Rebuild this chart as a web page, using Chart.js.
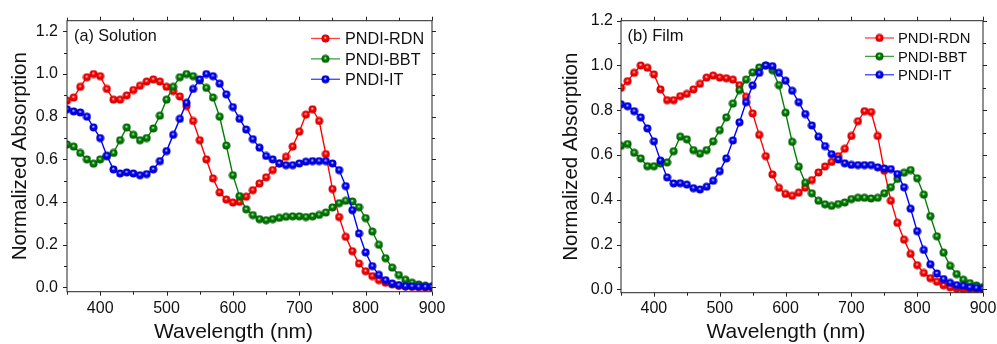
<!DOCTYPE html>
<html><head><meta charset="utf-8">
<script src="https://cdn.jsdelivr.net/npm/chart.js@4/dist/chart.umd.min.js"></script>
<style>
html,body{margin:0;padding:0;background:#fff;}
#wrap{position:relative;width:997px;height:344px;overflow:hidden;background:#fff;}
#ca{position:absolute;left:0;top:0;}
#cb{position:absolute;left:552px;top:0;}
</style></head><body>
<div id="wrap"><canvas id="ca" width="450" height="344"></canvas><canvas id="cb" width="445" height="344"></canvas></div>
<script>
// ---------- data ----------
const wavelengths = [350,360,370,380,390,400,410,420,430,440,450,460,470,480,490,500,510,520,530,540,550,560,570,580,590,600,610,620,630,640,650,660,670,680,690,700,710,720,730,740,750,760,770,780,790,800,810,820,830,840,850,860,870,880,890,900];

const seriesNames = ['PNDI-RDN','PNDI-BBT','PNDI-IT'];

const solutionRDN = [0.875,0.89,0.94,0.985,1.0,0.99,0.93,0.88,0.88,0.90, 0.925,0.945,0.965,0.975,0.965,0.94,0.92,0.895,0.85,0.78, 0.69,0.60,0.511,0.445,0.412,0.398,0.401,0.425,0.456,0.487, 0.516,0.55,0.581,0.612,0.66,0.73,0.81,0.835,0.78,0.625, 0.461,0.33,0.237,0.17,0.112,0.076,0.053,0.034,0.022,0.014, 0.008,0.005,0.003,0.002,0.0,0.0];
const solutionBBT = [0.67,0.66,0.63,0.60,0.58,0.60,0.615,0.63,0.69,0.75, 0.715,0.69,0.70,0.745,0.805,0.88,0.94,0.985,1.0,0.99, 0.97,0.935,0.89,0.80,0.665,0.526,0.428,0.366,0.339,0.32, 0.315,0.32,0.326,0.331,0.333,0.333,0.33,0.333,0.34,0.351, 0.375,0.395,0.406,0.403,0.376,0.325,0.262,0.20,0.137,0.093, 0.058,0.036,0.022,0.014,0.008,0.003];
const solutionIT = [0.835,0.825,0.82,0.80,0.75,0.70,0.617,0.553,0.534,0.539, 0.534,0.526,0.531,0.553,0.592,0.639,0.715,0.79,0.865,0.93, 0.975,1.0,0.99,0.955,0.905,0.845,0.79,0.74,0.695,0.655, 0.616,0.60,0.581,0.573,0.573,0.581,0.589,0.592,0.592,0.592, 0.581,0.55,0.475,0.362,0.253,0.164,0.10,0.059,0.034,0.019, 0.011,0.006,0.005,0.003,0.003,0.003];

const filmRDN = [0.90,0.93,0.967,1.0,0.99,0.96,0.893,0.845,0.845,0.863, 0.873,0.893,0.918,0.946,0.955,0.946,0.943,0.937,0.912,0.86, 0.786,0.69,0.595,0.513,0.453,0.426,0.418,0.432,0.454,0.488, 0.522,0.549,0.569,0.595,0.628,0.685,0.751,0.796,0.792,0.685, 0.53,0.396,0.297,0.222,0.158,0.108,0.073,0.05,0.034,0.018, 0.009,0.003,0.0,0.0,0.0,0.0];
const filmBBT = [0.641,0.649,0.61,0.585,0.55,0.55,0.562,0.567,0.617,0.682, 0.67,0.622,0.606,0.622,0.661,0.711,0.768,0.83,0.89,0.937, 0.969,0.991,1.0,0.979,0.912,0.789,0.659,0.548,0.476,0.429, 0.396,0.38,0.373,0.381,0.388,0.403,0.409,0.409,0.406,0.409, 0.429,0.456,0.493,0.521,0.533,0.496,0.423,0.327,0.237,0.164, 0.105,0.068,0.043,0.028,0.017,0.01];
const filmIT = [0.827,0.818,0.796,0.768,0.719,0.661,0.575,0.50,0.473,0.474, 0.468,0.452,0.446,0.458,0.485,0.528,0.585,0.665,0.746,0.836, 0.911,0.967,1.0,0.997,0.967,0.932,0.887,0.836,0.783,0.732, 0.682,0.64,0.604,0.58,0.563,0.556,0.555,0.555,0.555,0.545, 0.54,0.537,0.515,0.456,0.36,0.26,0.176,0.112,0.071,0.046, 0.029,0.019,0.015,0.009,0.006,0.003];

const xTickLabels = [400,500,600,700,800,900];
const xMinorTicks = [350,450,550,650,750,850];
const yTickLabels = [0,0.2,0.4,0.6,0.8,1.0,1.2];
const yMinorTicks = [0.1,0.3,0.5,0.7,0.9,1.1];

const xTitle = 'Wavelength (nm)';
const yTitle = 'Normalized Absorption';
const panelTitles = ['(a) Solution', '(b) Film'];

// ---------- styles ----------
const FONT = "Arial, 'Liberation Sans', sans-serif";
const colors = ['#ff0000', '#008000', '#0000ff'];
const lights = ['#ffd0d0', '#c8f0c8', '#d0d0ff'];
const darks  = ['#c00000', '#005500', '#0000b0'];

function ball(i) {
  const c = document.createElement('canvas');
  c.width = 9; c.height = 9;
  const g = c.getContext('2d');
  const grad = g.createRadialGradient(4.2, 3.6, 0.2, 4.5, 4.5, 4.4);
  grad.addColorStop(0, lights[i]);
  grad.addColorStop(0.35, colors[i]);
  grad.addColorStop(1, darks[i]);
  g.fillStyle = grad;
  g.beginPath(); g.arc(4.5, 4.5, 4.0, 0, Math.PI * 2); g.fill();
  return c;
}
const balls = [ball(0), ball(1), ball(2)];

const decor = {
  id: 'decor',
  afterDraw(chart, args, o) {
    const {ctx, chartArea: a, scales: {x, y}} = chart;
    ctx.save();
    ctx.strokeStyle = '#222';
    ctx.lineWidth = 1;
    ctx.strokeRect(a.left, a.top, a.right - a.left, a.bottom - a.top);
    ctx.beginPath();
    const xt = (vals, len) => vals.forEach(v => {
      const px = Math.round(x.getPixelForValue(v)) + 0.5;
      ctx.moveTo(px, a.bottom); ctx.lineTo(px, a.bottom + len);
      ctx.moveTo(px, a.top); ctx.lineTo(px, a.top - len);
    });
    const yt = (vals, len) => vals.forEach(v => {
      const py = Math.round(y.getPixelForValue(v)) + 0.5;
      ctx.moveTo(a.left, py); ctx.lineTo(a.left - len, py);
      ctx.moveTo(a.right, py); ctx.lineTo(a.right + len, py);
    });
    xt(xTickLabels, 4); xt(xMinorTicks, 3);
    yt(yTickLabels, 4); yt(yMinorTicks, 3);
    ctx.stroke();

    // panel label
    ctx.fillStyle = '#111';
    ctx.font = o.labelSize + 'px ' + FONT;
    ctx.textAlign = 'left';
    ctx.textBaseline = 'alphabetic';
    ctx.fillText(o.label, a.left + o.labelDx, o.labelY);

    // x title
    ctx.font = '21px ' + FONT;
    ctx.textAlign = 'center';
    ctx.fillText(xTitle, (a.left + a.right) / 2 + o.xTitleDx, o.xTitleY);

    // legend
    ctx.font = o.legSize + 'px ' + FONT;
    ctx.textAlign = 'left';
    chart.data.datasets.forEach((ds, i) => {
      const by = a.top + o.legY + i * o.legGap;
      const cy = by - o.legSize * 0.36;
      const lx = a.right - o.legLine;
      ctx.strokeStyle = ds.borderColor;
      ctx.globalAlpha = 0.75;
      ctx.lineWidth = 1.3;
      ctx.beginPath(); ctx.moveTo(lx, cy); ctx.lineTo(lx + 29, cy); ctx.stroke();
      ctx.globalAlpha = 1;
      ctx.drawImage(balls[i], lx + 14.5 - 4.5, cy - 4.5);
      ctx.fillStyle = '#111';
      ctx.fillText(ds.label, a.right - o.legText, by);
    });
    ctx.restore();
  }
};

function makeChart(id, series, cfg) {
  const datasets = series.map((vals, i) => ({
    label: seriesNames[i],
    data: wavelengths.map((w, k) => ({x: w, y: vals[k]})),
    borderColor: colors[i],
    backgroundColor: colors[i],
    borderWidth: 1.4,
    pointStyle: balls[i],
    pointRadius: 4,
    tension: 0,
    order: 3 - i
  }));
  return new Chart(document.getElementById(id), {
    type: 'line',
    data: {datasets},
    options: {
      responsive: false,
      animation: false,
      devicePixelRatio: 1,
      layout: {padding: {top: cfg.top, right: cfg.right, left: 0, bottom: 0}},
      plugins: {legend: {display: false}, tooltip: {enabled: false}, decor: cfg.decor},
      scales: {
        x: {
          type: 'linear', min: 350, max: 900,
          grid: {display: false, drawTicks: false},
          border: {display: false},
          afterBuildTicks: s => { s.ticks = xTickLabels.map(v => ({value: v})); },
          ticks: {color: '#111', padding: cfg.xPad, maxRotation: 0, font: {size: 16, family: FONT}, callback: v => String(v)},
          afterFit: s => { s.height = cfg.xH; s.paddingLeft = 0; s.paddingRight = 0; }
        },
        y: {
          type: 'linear', min: cfg.ymin, max: cfg.ymax,
          grid: {display: false, drawTicks: false},
          border: {display: false},
          afterBuildTicks: s => { s.ticks = yTickLabels.map(v => ({value: v})); },
          ticks: {color: '#111', padding: cfg.yPad, font: {size: 16, family: FONT}, callback: v => v.toFixed(1)},
          title: {display: true, text: yTitle, color: '#111', font: {size: 20.6, family: FONT, lineHeight: 1.2}, padding: {top: cfg.yTitlePad, bottom: 0}},
          afterFit: s => { s.width = cfg.yW; s.paddingTop = 0; s.paddingBottom = 0; }
        }
      }
    },
    plugins: [decor]
  });
}

makeChart('ca', [solutionRDN, solutionBBT, solutionIT], {
  top: 20.7, right: 18, xH: 52.3, yW: 67, ymin: -0.02, ymax: 1.25,
  xPad: 7, yPad: 9, yTitlePad: 7.6,
  decor: {label: panelTitles[0], labelSize: 16.2, labelDx: 7, labelY: 40.5,
          xTitleDx: -16, xTitleY: 337.5,
          legSize: 16.2, legY: 23.6, legGap: 20.4, legLine: 121, legText: 87}
});
makeChart('cb', [filmRDN, filmBBT, filmIT], {
  top: 20.7, right: 14, xH: 51.3, yW: 69, ymin: -0.015, ymax: 1.2,
  xPad: 6, yPad: 8, yTitlePad: 7.3,
  decor: {label: panelTitles[1], labelSize: 16.5, labelDx: 6.5, labelY: 40.5,
          xTitleDx: -16, xTitleY: 338,
          legSize: 14.8, legY: 22.6, legGap: 18.4, legLine: 118, legText: 85}
});
</script>
</body></html>
